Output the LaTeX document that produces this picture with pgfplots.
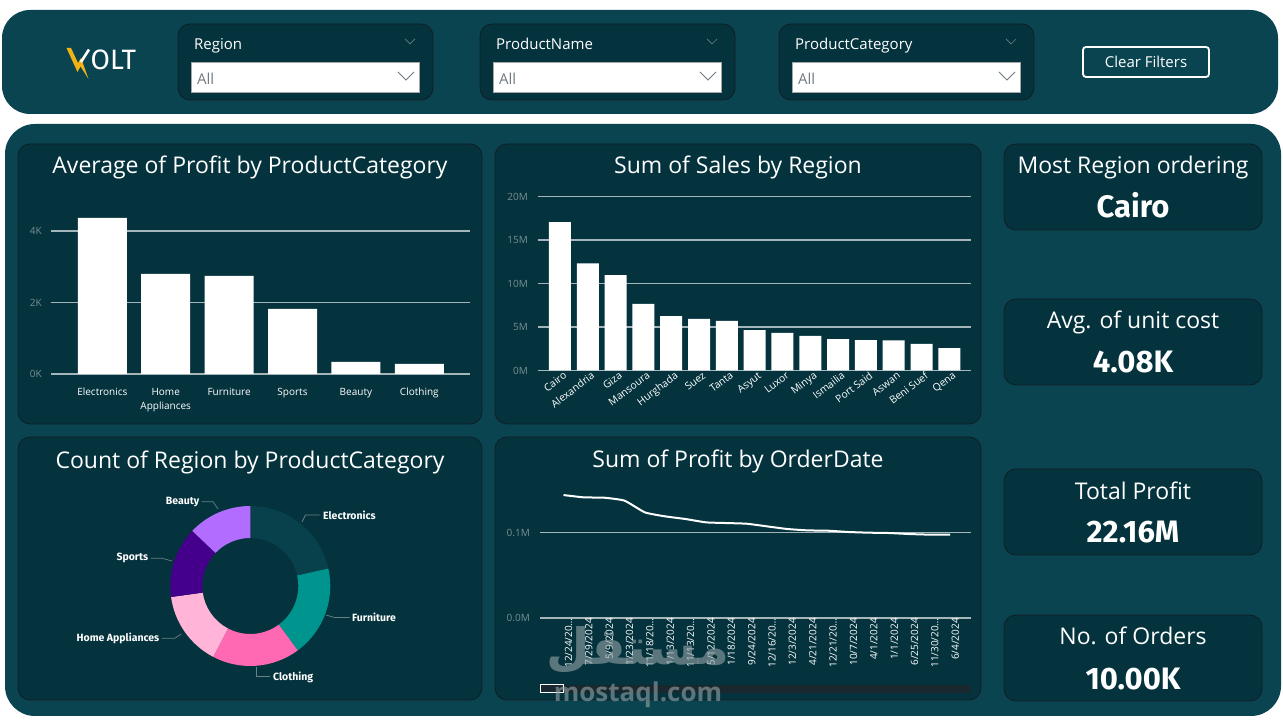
\documentclass[border=0pt]{standalone}
\usepackage{pgfplots}
\pgfplotsset{compat=1.18}
\usepackage{fontspec}
\setmainfont{Open Sans}
\newfontfamily\kpifont{Fira Sans}
\newfontfamily\arabicfont[Script=Arabic]{DejaVu Sans}
\TeXXeTstate=1

\definecolor{panel}{RGB}{10,68,80}
\definecolor{card}{RGB}{4,51,61}
\definecolor{cardline}{RGB}{16,30,36}
\definecolor{gridc}{RGB}{165,182,186}
\definecolor{tickc}{RGB}{120,142,148}
\definecolor{leader}{RGB}{105,128,134}
\definecolor{slicergray}{RGB}{112,122,128}
\definecolor{logogold}{RGB}{240,178,20}
\definecolor{scrollc}{RGB}{24,40,46}
\definecolor{wmark}{RGB}{150,165,168}
\definecolor{cElec}{RGB}{8,64,76}
\definecolor{cFurn}{RGB}{0,148,143}
\definecolor{cCloth}{RGB}{255,105,180}
\definecolor{cHome}{RGB}{255,180,216}
\definecolor{cSport}{RGB}{68,0,139}
\definecolor{cBeauty}{RGB}{178,108,255}

\newcommand\fs[1]{\fontsize{#1}{#1}\selectfont}
\newcommand\el{\ldots}

\pgfplotsset{
  dashpanel/.style={
    scale only axis,
    anchor=south west,
    axis line style={draw=none},
    major tick length=0pt,
    ymajorgrids,
    grid style={gridc, line width=1.1pt},
    tick label style={font=\fs{10}, inner sep=0pt},
    yticklabel style={text=tickc},
    xticklabel style={text=white},
    scaled y ticks=false,
    clip=false,
  },
}

% donut counts (Count of Region by ProductCategory)
\def\nE{2150}\def\nF{1840}\def\nC{1780}\def\nH{1510}\def\nS{1430}\def\nB{1290}

\begin{document}
\begin{tikzpicture}[x=1pt,y=1pt]
% ---------- page, panels, cards and slicers (pixel grid, y downwards)
\begin{scope}[yshift=722pt, y=-1pt]
  \fill[white] (0,0) rectangle (1283,722);
  \fill[panel, rounded corners=28pt] (2,10) rectangle (1278,114);
  \fill[panel, rounded corners=30pt] (5,124) rectangle (1281,716);
  \foreach \xa/\ya/\xb/\yb in {18/144/482/424, 495/144/981/424, 18/437/482/700,
      495/437/981/700, 1004/144/1262/230, 1004/299/1262/385, 1004/469/1262/555,
      1004/615/1262/701, 178/24/433/100, 480/24/735/100, 779/24/1034/100}
    \draw[cardline, fill=card, line width=0.8pt, rounded corners=12pt]
      (\xa,\ya) rectangle (\xb,\yb);
  % slicers
  \foreach \x/\lab in {178/Region, 480/ProductName, 779/ProductCategory}{
    \node[anchor=base west, inner sep=0pt, text=white, font=\fs{15}] at (\x+16,50) {\lab};
    \fill[white] (\x+13,62) rectangle (\x+241,92);
    \draw[gray!70, line width=0.6pt] (\x+13,62) rectangle (\x+241,92);
    \node[anchor=base west, inner sep=0pt, text=slicergray, font=\fs{15}] at (\x+19,85) {All};
    \draw[slicergray, line width=1pt] (\x+220,72) -- (\x+228,80) -- (\x+236,72);
    \draw[leader, line width=0.7pt] (\x+227,39) -- (\x+232,44) -- (\x+237,39);
  }
  % clear filters button
  \draw[white, line width=1.8pt, rounded corners=3pt] (1083,47) rectangle (1209,77);
  \node[text=white, font=\fs{15}, inner sep=0pt] at (1146,62) {Clear Filters};
  % logo: lightning-bolt V followed by OLT
  \fill[logogold] (66.5,48) -- (71,48) -- (78,63) -- (81,58) -- (88.5,79)
    -- (80.5,66.5) -- (77.5,72) -- cycle;
  \draw[white, line width=2.6pt] (81,62) -- (89,49.5);
  \node[anchor=base west, inner sep=0pt, text=white, font=\kpifont\fs{28}] at (90.5,69.3) {OLT};
  % chart titles
  \foreach \x/\y/\t in {250/174/Average of Profit by ProductCategory,
      738/174/Sum of Sales by Region, 250/469/Count of Region by ProductCategory,
      738/468/Sum of Profit by OrderDate}
    \node[anchor=base, inner sep=0pt, text=white, font=\fs{23}] at (\x,\y) {\t};
  % KPI cards
  \foreach \y/\t in {174/Most Region ordering, 329/Avg. of unit cost,
      500/Total Profit, 645/No. of Orders}
    \node[anchor=base, inner sep=0pt, text=white, font=\fs{23}] at (1133,\y) {\t};
  \foreach \y/\t in {218/Cairo, 373/4.08K, 543/22.16M, 690/10.00K}
    \node[anchor=base, inner sep=0pt, text=white, font=\kpifont\bfseries\fs{31}] at (1133,\y) {\t};
  % scrollbar of the date chart
  \fill[scrollc] (540,685) rectangle (971,693);
  \draw[white, line width=1pt] (540.5,685) rectangle (563,692.5);
\end{scope}

% ---------- Average of Profit by ProductCategory
\begin{axis}[dashpanel, at={(51pt,348pt)}, width=419pt, height=160.9pt,
  xmin=-0.81, xmax=5.8, ymin=0, ymax=4500,
  ybar, bar width=49pt,
  xtick=data,
  xticklabels={Electronics,{Home\\Appliances},Furniture,Sports,Beauty,Clothing},
  xticklabel style={align=center, anchor=north, yshift=-14pt,
    font=\fontsize{10}{14}\selectfont},
  ytick={0,2000,4000}, yticklabels={0K,2K,4K},
  yticklabel style={xshift=-9pt},
]
\addplot[fill=white, draw=none] coordinates
  {(0,4364) (1,2797) (2,2741) (3,1818) (4,336) (5,280)};
\end{axis}

% ---------- Sum of Sales by Region (millions)
\begin{axis}[dashpanel, at={(538pt,351.5pt)}, width=433pt, height=174pt,
  xmin=-0.79, xmax=14.78, ymin=0, ymax=20,
  ybar, bar width=22pt,
  xtick=data,
  xticklabels={Cairo,Alexandria,Giza,Mansoura,Hurghada,Suez,Tanta,Asyut,Luxor,
    Minya,Ismailia,Port Said,Aswan,Beni Suef,Qena},
  xticklabel style={rotate=37, anchor=north east, xshift=2pt, yshift=-2pt, font=\fs{10.3}},
  ytick={0,5,10,15,20}, yticklabels={0M,5M,10M,15M,20M},
  yticklabel style={xshift=-10pt},
]
\addplot[fill=white, draw=none] coordinates
  {(0,17.05) (1,12.30) (2,10.96) (3,7.66) (4,6.25) (5,5.94) (6,5.71) (7,4.64)
   (8,4.33) (9,3.98) (10,3.60) (11,3.49) (12,3.45) (13,3.07) (14,2.57)};
\end{axis}

% ---------- Sum of Profit by OrderDate
\begin{axis}[dashpanel, at={(540pt,104pt)}, width=431pt, height=136.5pt,
  xmin=-1.155, xmax=20.02, ymin=0, ymax=160000,
  xtick={0,1,2,3,4,5,6,7,8,9,10,11,12,13,14,15,16,17,18,19},
  xticklabels={12/24/20\el,7/29/2024,5/9/2024,1/23/2024,11/18/20\el,1/13/2024,
    11/13/20\el,5/12/2024,1/18/2024,9/24/2024,12/16/20\el,12/3/2024,4/21/2024,
    12/21/20\el,10/7/2024,4/1/2024,1/1/2024,6/25/2024,11/30/20\el,6/4/2024},
  xticklabel style={rotate=90, anchor=east, yshift=-5pt, font=\fs{10}},
  ytick={0,100000}, yticklabels={0.0M,0.1M},
  yticklabel style={xshift=-10pt},
]
\addplot[white, line width=2pt, smooth, tension=0.3] coordinates
  {(0,144100) (1,141400) (2,141000) (3,137500) (4,123800) (5,119100) (6,116000)
   (7,112100) (8,111300) (9,110500) (10,107400) (11,104300) (12,102700) (13,102300)
   (14,100800) (15,100000) (16,99600) (17,98400) (18,97700) (19,97600)};
\end{axis}

% ---------- Count of Region by ProductCategory (donut)
\pgfmathsetmacro\nT{\nE+\nF+\nC+\nH+\nS+\nB}
\pgfmathsetmacro\aA{90}
\pgfmathsetmacro\aB{\aA-360*(\nE/\nT)}
\pgfmathsetmacro\aC{\aB-360*(\nF/\nT)}
\pgfmathsetmacro\aD{\aC-360*(\nC/\nT)}
\pgfmathsetmacro\aE{\aD-360*(\nH/\nT)}
\pgfmathsetmacro\aF{\aE-360*(\nS/\nT)}
\pgfmathsetmacro\aG{\aF-360*(\nB/\nT)}
\begin{axis}[hide axis, scale only axis, anchor=center, at={(250.3pt,136pt)},
  x=1pt, y=1pt, xmin=-100, xmax=100, ymin=-100, ymax=100, clip=false]
\foreach \s/\e/\c in {\aA/\aB/cElec, \aB/\aC/cFurn, \aC/\aD/cCloth,
    \aD/\aE/cHome, \aE/\aF/cSport, \aF/\aG/cBeauty}{
  \edef\seg{\noexpand\fill[\c] (axis cs:0,0) ++(\s:80pt)
    arc[start angle=\s, end angle=\e, radius=80pt] -- ++(\e:-32pt)
    arc[start angle=\e, end angle=\s, radius=48pt] -- cycle;}
  \seg
}
\end{axis}

% donut data labels with leader lines
\begin{scope}[yshift=722pt, y=-1pt]
  \draw[leader, line width=0.7pt] (302,522) -- (305.5,515) -- (319.5,515);
  \draw[leader, line width=0.7pt] (326,615) -- (334.5,617.5) -- (349.5,617.5);
  \draw[leader, line width=0.7pt] (256.3,667) -- (256.3,676.7) -- (269.5,676.7);
  \draw[leader, line width=0.7pt] (181.3,634) -- (174.7,638.3) -- (161.5,638.3);
  \draw[leader, line width=0.7pt] (172,561) -- (162,558.3) -- (150.5,558.3);
  \draw[leader, line width=0.7pt] (218,509) -- (213,501.7) -- (201.5,501.7);
  \tikzset{dl/.style={inner sep=0pt, text=white, font=\kpifont\bfseries\fs{10.5}}}
  \node[dl, anchor=west] at (323,515) {Electronics};
  \node[dl, anchor=west] at (352,617.5) {Furniture};
  \node[dl, anchor=west] at (273,677) {Clothing};
  \node[dl, anchor=east] at (159.5,638.3) {Home Appliances};
  \node[dl, anchor=east] at (148.5,558.3) {Sports};
  \node[dl, anchor=east] at (199.5,502) {Beauty};
  % site watermark
  \node[text=wmark, opacity=0.6, inner sep=0pt, font=\arabicfont\bfseries\fs{50}]
    at (638,650) {\beginR مستقل\endR};
  \node[text=wmark, opacity=0.6, inner sep=0pt, font=\bfseries\fs{26}]
    at (638,695) {mostaql.com};
\end{scope}
\end{tikzpicture}
\end{document}
